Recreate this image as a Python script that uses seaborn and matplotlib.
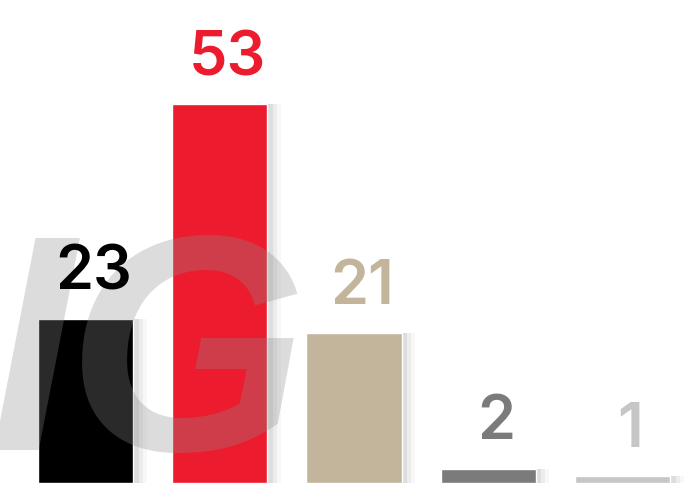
import matplotlib
matplotlib.use("Agg")
import numpy as np
import pandas as pd
import matplotlib.pyplot as plt
import seaborn as sns

categories = ["A", "B", "C", "D", "E"]
values = [23, 53, 21, 2, 1]
colors = ["#000000", "#ed1b2e", "#c3b59c", "#7b7b7c", "#c6c6c6"]

sns.set_style("white")
plt.rcParams["font.family"] = ["Inter", "Liberation Sans", "DejaVu Sans"]

df = pd.DataFrame({"cat": categories, "val": values})

fig = plt.figure(figsize=(6.93, 4.83), dpi=100)
ax = fig.add_axes([0, 0, 1, 1])

# soft shadow to the right of each bar
xs = np.arange(len(values))
for off, a in [(0.04, 0.2), (0.07, 0.13), (0.1, 0.07)]:
    ax.bar(xs + off, values, width=0.71, color="#a0a0a0", alpha=a, zorder=1, linewidth=0)

sns.barplot(data=df, x="cat", y="val", hue="cat", palette=colors, legend=False,
            width=0.71, ax=ax, zorder=2, saturation=1)

for i, (v, c) in enumerate(zip(values, colors)):
    ax.text(i + 0.06, v + 4.1, str(v), ha="center", va="baseline", fontsize=44,
            fontweight="semibold", color=c, zorder=4)

# watermark, between bars and labels
wm = dict(fontsize=222, fontweight="bold", fontstyle="italic", family="Liberation Sans",
          color="#8c8c8c", alpha=0.3, va="baseline", ha="center",
          transform=ax.transAxes, zorder=3)
ax.text(0.045, 0.068, "I", **wm)
ax.text(0.27, 0.068, "G", **wm)

ax.set_xlim(-0.637, 4.525)
ax.set_ylim(0, 67.6)
ax.axis("off")

fig.savefig("out.png", dpi=100)
